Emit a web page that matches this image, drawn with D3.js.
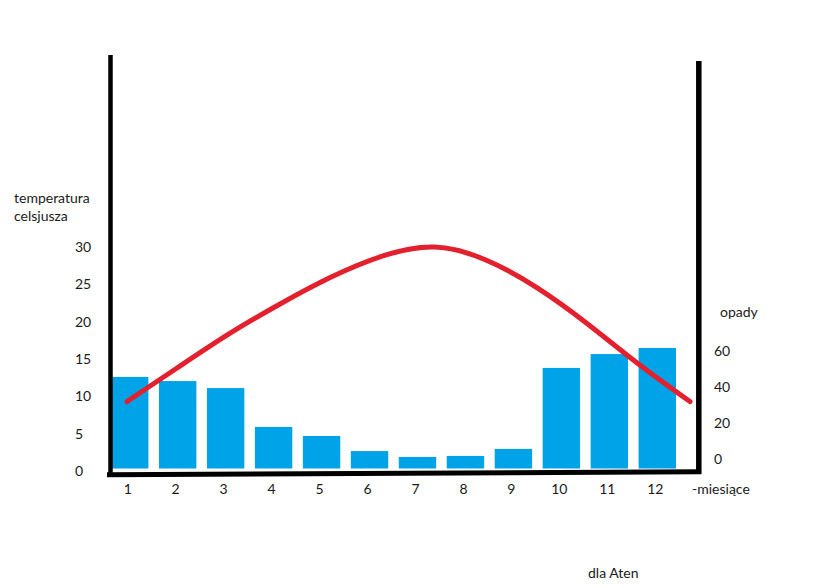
<!DOCTYPE html>
<html>
<head>
<meta charset="utf-8">
<script src="https://cdn.jsdelivr.net/npm/d3@7"></script>
<style>
  html, body { margin: 0; padding: 0; background: #fff; }
  svg { display: block; }
  text { font-family: Lato, "Open Sans", sans-serif; font-size: 14px; fill: #1a1a1a; }
</style>
</head>
<body>
<svg id="chart" width="834" height="588"></svg>
<script>
// ---- data ----
const months = [1, 2, 3, 4, 5, 6, 7, 8, 9, 10, 11, 12];
const temperature = [9.3, 13.9, 18.4, 22.4, 26.0, 28.8, 30.0, 28.3, 24.6, 19.7, 14.3, 9.3];
const precipitation = [45.6, 43.3, 39.4, 17.8, 12.8, 4.4, 1.1, 1.7, 5.6, 50.6, 58.3, 61.7];
const tempTicks = [0, 5, 10, 15, 20, 25, 30];
const precipTicks = [0, 20, 40, 60];
const tempTitle = ["temperatura", "celsjusza"];
const precipTitle = "opady";
const xTitle = "-miesiące";
const caption = "dla Aten";

// ---- scales ----
const svg = d3.select("#chart");
const x = d3.scaleBand().domain(months).range([111, 676]).paddingInner(0.22).paddingOuter(0);
const xLine = d3.scaleLinear().domain([1, 12]).range([127, 690]);
const yT = d3.scaleLinear().domain([0, 30]).range([471, 247]);
const yP = d3.scaleLinear().domain([0, 60]).range([459, 351]);
const baseline = 468.5;

// ---- bars (precipitation) ----
svg.append("g").selectAll("rect")
  .data(months)
  .join("rect")
  .attr("x", (m) => x(m))
  .attr("width", x.bandwidth())
  .attr("y", (m, i) => yP(precipitation[i]))
  .attr("height", (m, i) => baseline - yP(precipitation[i]))
  .attr("fill", "#00a2e8");

// ---- axes lines ----
const axes = svg.append("g").attr("stroke", "#000").attr("fill", "none");
axes.append("line").attr("x1", 110.5).attr("x2", 110.5).attr("y1", 55).attr("y2", 477).attr("stroke-width", 4.5);
axes.append("line").attr("x1", 698.8).attr("x2", 698.8).attr("y1", 61).attr("y2", 474).attr("stroke-width", 5.5);
axes.append("line").attr("x1", 107).attr("x2", 701).attr("y1", 474.8).attr("y2", 471.8).attr("stroke-width", 5);

// ---- temperature line ----
const line = d3.line()
  .x((d, i) => xLine(months[i]))
  .y((d) => yT(d))
  .curve(d3.curveNatural);
svg.append("path")
  .datum(temperature)
  .attr("d", line)
  .attr("fill", "none")
  .attr("stroke", "#e3202d")
  .attr("stroke-width", 5)
  .attr("stroke-linecap", "round");

// ---- left tick labels ----
svg.append("g").selectAll("text")
  .data(tempTicks)
  .join("text")
  .attr("x", 75)
  .attr("y", (d) => yT(d))
  .attr("dy", "0.35em")
  .text((d) => d);

svg.append("g").selectAll("text")
  .data(tempTitle)
  .join("text")
  .attr("x", 14)
  .attr("y", (d, i) => 198 + i * 18)
  .attr("dy", "0.35em")
  .text((d) => d);

// ---- right tick labels ----
svg.append("g").selectAll("text")
  .data(precipTicks)
  .join("text")
  .attr("x", 714)
  .attr("y", (d) => yP(d))
  .attr("dy", "0.35em")
  .text((d) => d);

svg.append("text").attr("x", 720).attr("y", 312).attr("dy", "0.35em").text(precipTitle);

// ---- month labels ----
svg.append("g").selectAll("text")
  .data(months)
  .join("text")
  .attr("x", (m) => x(m) + x.bandwidth() / 2 - 2)
  .attr("y", 489)
  .attr("dy", "0.35em")
  .attr("text-anchor", "middle")
  .text((m) => m);

svg.append("text").attr("x", 692).attr("y", 489).attr("dy", "0.35em").text(xTitle);
svg.append("text").attr("x", 588).attr("y", 573).attr("dy", "0.35em").text(caption);
</script>
</body>
</html>
